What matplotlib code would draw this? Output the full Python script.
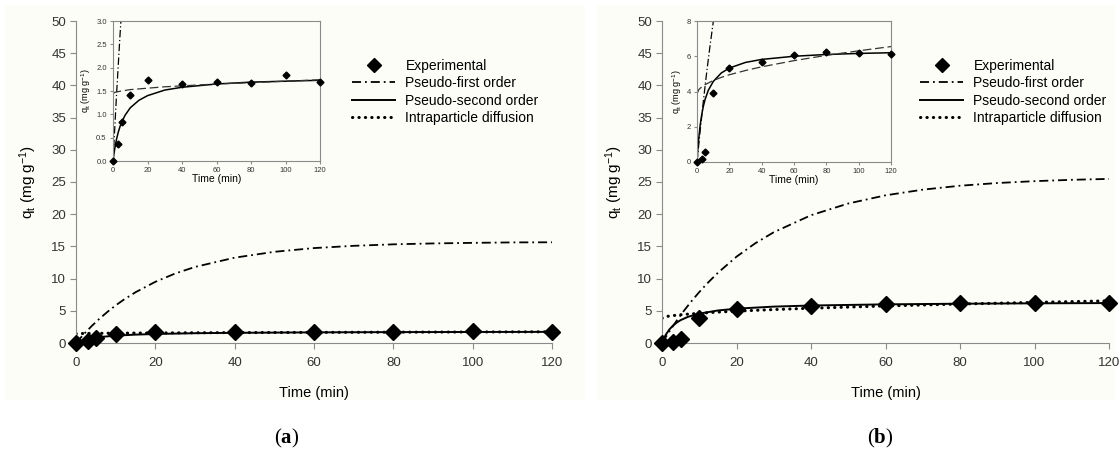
import matplotlib
matplotlib.use("Agg")
import matplotlib.pyplot as plt
from matplotlib.patches import Rectangle

plt.rcParams['font.family'] = ['Liberation Sans', 'DejaVu Sans']
plt.rcParams['mathtext.fontset'] = 'custom'
plt.rcParams['mathtext.bf'] = 'Liberation Serif:bold'

# experimental points (same times for both panels)
t_exp = [0, 3, 5, 10, 20, 40, 60, 80, 100, 120]
qa_exp = [0, 0.36, 0.84, 1.41, 1.73, 1.64, 1.70, 1.68, 1.84, 1.70]
qb_exp = [0, 0.17, 0.55, 3.90, 5.35, 5.70, 6.05, 6.25, 6.20, 6.15]

# pseudo-first order curves
t_pfo = [0, 2, 4, 6, 8, 10, 12, 15, 20, 25, 30, 40, 50, 60, 70, 80, 90, 100, 110, 120]
qa_pfo = [0, 1.39, 2.66, 3.82, 4.87, 5.84, 6.71, 7.88, 9.50, 10.79, 11.81, 13.25,
          14.16, 14.74, 15.09, 15.32, 15.46, 15.55, 15.62, 15.64]
qb_pfo = [0, 1.82, 3.51, 5.09, 6.55, 7.91, 9.17, 10.90, 13.40, 15.47, 17.20, 19.84,
          21.66, 22.93, 23.81, 24.42, 24.84, 25.13, 25.34, 25.48]

# pseudo-second order
t_pso = [0, 0.5, 1, 2, 3, 4, 5, 7, 10, 15, 20, 30, 40, 60, 80, 100, 120]
qa_pso = [0, 0.14, 0.26, 0.46, 0.61, 0.73, 0.83, 0.98, 1.14, 1.30, 1.40, 1.52, 1.58,
          1.65, 1.69, 1.71, 1.73]
qb_pso = [0, 0.71, 1.27, 2.12, 2.73, 3.19, 3.55, 4.07, 4.56, 5.05, 5.33, 5.65, 5.82,
          6.00, 6.10, 6.16, 6.20]

# intraparticle diffusion
t_ipd = [0, 1, 2, 5, 10, 15, 20, 30, 40, 60, 80, 100, 120]
qa_ipd = [1.44, 1.47, 1.48, 1.50, 1.53, 1.545, 1.56, 1.59, 1.61, 1.65, 1.68, 1.71, 1.74]
qb_ipd = [3.84, 4.09, 4.19, 4.39, 4.62, 4.80, 4.95, 5.19, 5.40, 5.75, 6.05, 6.31, 6.55]

labels = ['Experimental', 'Pseudo-first order', 'Pseudo-second order',
          'Intraparticle diffusion']
qlabel = r'$\mathregular{q_t}$ (mg g$\mathregular{^{-1}}$)'

W, H = 1120, 451
cream = '#fdfdf8'
grey = '#8a8a8a'
txt = '#333333'

fig = plt.figure(figsize=(W / 100, H / 100), dpi=100)
fig.patches.append(Rectangle((5 / W, 51 / H), 580 / W, 395 / H, transform=fig.transFigure,
                             facecolor=cream, edgecolor='none', zorder=-5))
fig.patches.append(Rectangle((597 / W, 51 / H), 518 / W, 395 / H, transform=fig.transFigure,
                             facecolor=cream, edgecolor='none', zorder=-5))


def px_rect(l, r, b, t):
    return [l / W, (H - b) / H, (r - l) / W, (b - t) / H]


def style_axes(ax, full_frame, fs):
    for s in ['left', 'bottom', 'top', 'right']:
        ax.spines[s].set_color(grey)
        ax.spines[s].set_linewidth(0.8)
    if not full_frame:
        ax.spines['top'].set_visible(False)
        ax.spines['right'].set_visible(False)
    ax.tick_params(direction='out', color=grey, labelcolor=txt, labelsize=fs,
                   length=4 if not full_frame else 2.5, width=0.8,
                   pad=3 if not full_frame else 2)
    if not full_frame:
        ax.tick_params(axis='x', pad=6)


def panel(main_box, inset_box, q_exp, q_pfo, q_pso, q_ipd, iy_max, iy_ticks, iy_fmt,
          leg_xy, tag, tag_x):
    ax = fig.add_axes(px_rect(*main_box))
    ax.set_facecolor('none')
    ax.plot(t_pfo, q_pfo, color='black', lw=1.3, ls=(0, (5, 2.2, 1, 2.2)))
    ax.plot(t_pso, q_pso, color='black', lw=1.4, ls='-')
    ax.plot(t_ipd, q_ipd, color='black', lw=2.2, ls=(0, (0.1, 2.0)),
            dash_capstyle='round')
    ax.plot(t_exp, q_exp, ls='none', marker='D', ms=8.5, color='black', clip_on=False,
            zorder=5)
    ax.set_xlim(0, 120)
    ax.set_ylim(0, 50)
    ax.set_xticks(range(0, 121, 20))
    ax.set_yticks(range(0, 51, 5))
    style_axes(ax, False, 9.5)
    ax.set_xlabel('Time (min)', fontsize=10.5, labelpad=12)
    ax.set_ylabel(qlabel, fontsize=11, labelpad=9)

    hs = [
        plt.Line2D([], [], ls='none', marker='D', ms=7.5, color='black'),
        plt.Line2D([], [], color='black', lw=1.3, ls=(0, (5, 2.2, 1, 2.2))),
        plt.Line2D([], [], color='black', lw=1.4),
        plt.Line2D([], [], color='black', lw=2.2, ls=(0, (0.1, 2.0)), dash_capstyle='round'),
    ]
    fig.legend(hs, labels, loc='upper left', bbox_to_anchor=leg_xy, frameon=False,
               fontsize=10, handlelength=3.1, handletextpad=0.75, labelspacing=0.24,
               borderpad=0, borderaxespad=0)

    ins = fig.add_axes(px_rect(*inset_box))
    ins.set_facecolor(cream)
    ins.plot(t_pfo, q_pfo, color='black', lw=0.9, ls=(0, (6, 2, 1, 2)))
    ins.plot(t_pso, q_pso, color='black', lw=1.1)
    ins.plot(t_ipd, q_ipd, color='#333333', lw=0.9, ls=(0, (7, 3)))
    ins.plot(t_exp, q_exp, ls='none', marker='D', ms=3.5, color='black', clip_on=False,
             zorder=5)
    ins.set_xlim(0, 120)
    ins.set_ylim(0, iy_max)
    ins.set_xticks(range(0, 121, 20))
    ins.set_yticks(iy_ticks)
    ins.set_yticklabels([iy_fmt.format(v) for v in iy_ticks])
    style_axes(ins, True, 5.5)
    ins.set_xlabel('Time (min)', fontsize=7.5, labelpad=0)
    ins.set_ylabel(qlabel, fontsize=6.5, labelpad=2)

    fig.text(tag_x / W, (H - 438) / H, tag, ha='center', va='center', fontsize=15,
             family='Liberation Serif')


panel((76, 552, 343, 21), (113, 320, 161, 21), qa_exp, qa_pfo, qa_pso, qa_ipd,
      3.0, [0, 0.5, 1.0, 1.5, 2.0, 2.5, 3.0], '{:.1f}', (352 / W, (H - 59) / H),
      r'($\mathbf{a}$)', 287)
panel((662, 1109, 343, 21), (697, 891, 162, 21), qb_exp, qb_pfo, qb_pso, qb_ipd,
      8, [0, 2, 4, 6, 8], '{:g}', (920 / W, (H - 59) / H),
      r'($\mathbf{b}$)', 880)

fig.savefig('out.png', dpi=100, facecolor='white')
